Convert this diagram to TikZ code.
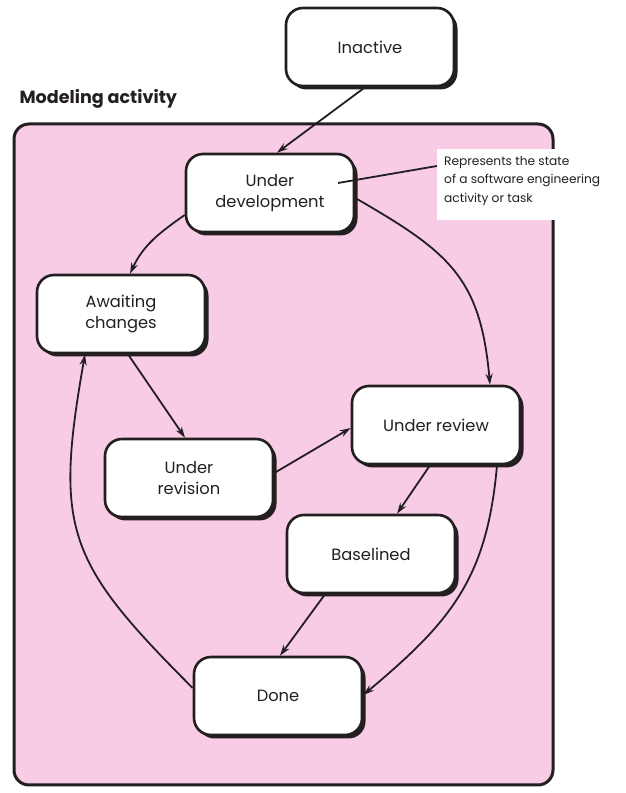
\documentclass[tikz,border=0pt]{standalone}
\usepackage{fontspec}
\setmainfont{Poppins}
\usetikzlibrary{arrows.meta,shadows,positioning}
\definecolor{ink}{HTML}{231F20}
\definecolor{pinkbg}{HTML}{F8CCE5}
\begin{document}
\begin{tikzpicture}[x=1pt,y=1pt,
  state/.style={draw=ink, line width=2.6pt, fill=white, rounded corners=17pt,
    minimum width=168pt, minimum height=78pt, align=center, text=ink,
    font=\fontsize{16.3}{21.5}\selectfont,
    drop shadow={shadow xshift=3.5pt, shadow yshift=-3.5pt, opacity=1, fill=ink}},
  conn/.style={draw=ink, line width=1.8pt, -{Stealth[length=11pt,width=7pt]}},
  note/.style={fill=white, inner sep=0pt},
]
\path[use as bounding box] (0,0) rectangle (626,793);
% container
\draw[draw=ink, line width=3pt, fill=pinkbg, rounded corners=15pt] (14,8) rectangle (553,669);
\node[anchor=base west, text=ink, font=\fontsize{17.6}{20}\selectfont\bfseries] (title) at (16,689) {Modeling activity};
% annotation
\node[note, minimum width=178pt, minimum height=71pt, anchor=north west] (notebox) at (437,644) {};
\node[anchor=north west, align=left, text=ink, inner sep=0pt, font=\fontsize{12.2}{18.5}\selectfont] (notetext) at (444,637)
  {Represents the state\\of a software engineering\\activity or task};
% states
\node[state] (inactive) at (370,746) {Inactive};
\node[state] (underdev) at (270,600) {Under\\development};
\node[state] (await) at (121,479) {Awaiting\\changes};
\node[state] (review) at (436,368) {Under review};
\node[state] (revision) at (189,315) {Under\\revision};
\node[state] (baselined) at (371,239) {Baselined};
\node[state] (done) at (278,97) {Done};
% annotation leader
\coordinate (leadstart) at ([xshift=68pt,yshift=10pt]underdev.center);
\draw[draw=ink, line width=1.8pt] (leadstart) -- ([yshift=-17pt]notebox.north west);
% connectors
\draw[conn] ([xshift=-5pt]inactive.south) -- ([xshift=7pt]underdev.north);
\draw[conn] ([yshift=-22pt]underdev.west) to[out=215,in=65] ([xshift=9pt]await.north);
\draw[conn] ([yshift=-5pt]underdev.east) to[out=-30,in=95,looseness=1.2] ([xshift=54pt]review.north);
\draw[conn] ([xshift=7pt]await.south) -- ([xshift=-4pt]revision.north);
\draw[conn] ([yshift=8pt]done.west) to[out=135,in=-100,looseness=1.3] ([xshift=-36pt]await.south);
\draw[conn] ([yshift=5pt]revision.east) -- ([yshift=-3pt]review.west);
\draw[conn] ([xshift=-6pt]review.south) -- ([xshift=26pt]baselined.north);
\draw[conn] ([xshift=61pt]review.south) to[out=-95,in=40,looseness=1.1] ([yshift=1pt]done.east);
\draw[conn] ([xshift=-46pt]baselined.south) -- ([xshift=2pt]done.north);
\end{tikzpicture}
\end{document}
